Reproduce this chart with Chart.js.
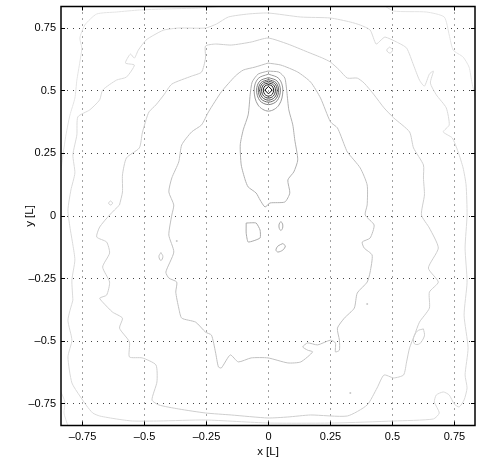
<!DOCTYPE html>
<html>
<head>
<meta charset="utf-8">
<title>Contours</title>
<script src="https://cdn.jsdelivr.net/npm/chart.js@4.4.0/dist/chart.umd.min.js"></script>
<style>
    html, body { margin: 0; padding: 0; background: #fff; }
</style>
</head>
<body>
<canvas id="contourChart" width="479" height="462"></canvas>
<script>
// Axis setup
const tickValues = [-0.75, -0.5, -0.25, 0, 0.25, 0.5, 0.75];
const xRange = [-0.837, 0.833];
const yRange = [-0.837, 0.837];

// Lowest level: only small pieces show inside the corners
const edgeTopLeft = [[-0.837,0.184],[-0.829,0.244],[-0.817,0.324],[-0.801,0.403],[-0.781,0.471],[-0.773,0.543],[-0.761,0.615],[-0.753,0.671],[-0.761,0.711],[-0.741,0.763],[-0.693,0.807],[-0.613,0.815],[-0.521,0.823],[-0.422,0.827],[-0.282,0.831],[-0.122,0.843]];
const edgeTopRight = [[0.458,0.847],[0.505,0.819],[0.637,0.815],[0.709,0.795],[0.729,0.723],[0.745,0.663],[0.785,0.635],[0.809,0.595],[0.821,0.531],[0.837,0.464]];
const edgeBottomLeft = [[-0.841,-0.695],[-0.821,-0.743],[-0.825,-0.787],[-0.809,-0.839]];

// Main closed levels, outside to inside
const level2 = [[-0.789,-0.336],[-0.793,-0.256],[-0.781,-0.176],[-0.789,-0.116],[-0.801,-0.044],[-0.809,0.024],[-0.797,0.104],[-0.781,0.172],[-0.789,0.244],[-0.773,0.324],[-0.769,0.396],[-0.721,0.424],[-0.681,0.464],[-0.669,0.503],[-0.613,0.543],[-0.573,0.555],[-0.541,0.603],[-0.577,0.611],[-0.557,0.647],[-0.541,0.631],[-0.525,0.663],[-0.494,0.703],[-0.462,0.723],[-0.422,0.743],[-0.362,0.751],[-0.254,0.751],[-0.210,0.767],[-0.162,0.795],[-0.082,0.807],[-0.002,0.811],[0.130,0.795],[0.250,0.791],[0.330,0.775],[0.370,0.763],[0.410,0.743],[0.434,0.687],[0.454,0.703],[0.470,0.715],[0.517,0.695],[0.557,0.671],[0.585,0.603],[0.609,0.543],[0.629,0.519],[0.649,0.567],[0.665,0.579],[0.653,0.531],[0.677,0.484],[0.717,0.432],[0.729,0.364],[0.705,0.336],[0.741,0.312],[0.765,0.256],[0.785,0.192],[0.797,0.124],[0.801,0.004],[0.793,-0.128],[0.801,-0.264],[0.789,-0.396],[0.805,-0.527],[0.793,-0.635],[0.801,-0.687],[0.789,-0.735],[0.769,-0.763],[0.749,-0.751],[0.729,-0.715],[0.705,-0.703],[0.677,-0.715],[0.669,-0.743],[0.689,-0.787],[0.665,-0.811],[0.505,-0.819],[0.266,-0.827],[-0.002,-0.827],[-0.254,-0.815],[-0.442,-0.819],[-0.549,-0.819],[-0.613,-0.811],[-0.681,-0.799],[-0.709,-0.787],[-0.733,-0.759],[-0.761,-0.719],[-0.793,-0.667],[-0.809,-0.563],[-0.793,-0.496],[-0.809,-0.416]];
const level3 = [[-0.601,0.044],[-0.589,0.096],[-0.589,0.164],[-0.573,0.232],[-0.521,0.272],[-0.509,0.332],[-0.494,0.384],[-0.482,0.416],[-0.454,0.444],[-0.422,0.484],[-0.390,0.527],[-0.310,0.559],[-0.270,0.575],[-0.254,0.631],[-0.254,0.679],[-0.214,0.687],[-0.150,0.683],[-0.070,0.695],[-0.002,0.711],[0.078,0.687],[0.158,0.655],[0.218,0.631],[0.250,0.615],[0.286,0.583],[0.318,0.551],[0.358,0.551],[0.386,0.531],[0.426,0.484],[0.466,0.432],[0.505,0.392],[0.569,0.336],[0.585,0.272],[0.625,0.204],[0.625,0.152],[0.629,0.084],[0.617,0.004],[0.649,-0.048],[0.685,-0.128],[0.645,-0.208],[0.685,-0.264],[0.649,-0.304],[0.649,-0.368],[0.609,-0.424],[0.589,-0.476],[0.569,-0.527],[0.557,-0.583],[0.545,-0.635],[0.505,-0.647],[0.466,-0.635],[0.438,-0.687],[0.398,-0.755],[0.318,-0.799],[0.170,-0.795],[0.078,-0.803],[-0.002,-0.807],[-0.150,-0.795],[-0.254,-0.787],[-0.362,-0.771],[-0.442,-0.755],[-0.470,-0.735],[-0.450,-0.663],[-0.454,-0.595],[-0.509,-0.567],[-0.561,-0.563],[-0.561,-0.503],[-0.601,-0.448],[-0.589,-0.408],[-0.629,-0.384],[-0.669,-0.344],[-0.681,-0.328],[-0.653,-0.316],[-0.641,-0.264],[-0.669,-0.204],[-0.641,-0.148],[-0.653,-0.104],[-0.693,-0.084],[-0.681,-0.044],[-0.641,0.004]];
const level4 = [[-0.002,0.611],[-0.054,0.595],[-0.102,0.583],[-0.134,0.559],[-0.190,0.496],[-0.242,0.416],[-0.270,0.364],[-0.310,0.336],[-0.350,0.284],[-0.362,0.216],[-0.390,0.152],[-0.402,0.096],[-0.382,0.044],[-0.390,0.004],[-0.402,-0.076],[-0.382,-0.144],[-0.414,-0.224],[-0.402,-0.248],[-0.370,-0.264],[-0.374,-0.304],[-0.362,-0.368],[-0.350,-0.408],[-0.294,-0.424],[-0.254,-0.464],[-0.230,-0.476],[-0.214,-0.543],[-0.202,-0.603],[-0.190,-0.607],[-0.154,-0.555],[-0.122,-0.583],[-0.070,-0.567],[-0.002,-0.567],[0.078,-0.587],[0.130,-0.583],[0.178,-0.543],[0.158,-0.536],[0.138,-0.523],[0.158,-0.507],[0.198,-0.515],[0.250,-0.496],[0.270,-0.507],[0.270,-0.543],[0.286,-0.536],[0.286,-0.496],[0.278,-0.448],[0.306,-0.408],[0.346,-0.368],[0.358,-0.308],[0.398,-0.264],[0.410,-0.224],[0.418,-0.156],[0.386,-0.128],[0.378,-0.104],[0.410,-0.088],[0.426,-0.036],[0.390,0.004],[0.398,0.044],[0.398,0.124],[0.370,0.192],[0.318,0.256],[0.306,0.284],[0.278,0.352],[0.250,0.376],[0.210,0.471],[0.170,0.535],[0.118,0.575],[0.050,0.603]];
const level5 = [[-0.002,0.579],[0.042,0.575],[0.066,0.551],[0.074,0.496],[0.082,0.424],[0.098,0.364],[0.106,0.304],[0.118,0.224],[0.102,0.176],[0.078,0.144],[0.086,0.092],[0.066,0.056],[0.006,0.052],[-0.014,0.036],[-0.034,0.064],[-0.050,0.092],[-0.082,0.116],[-0.094,0.144],[-0.110,0.204],[-0.114,0.284],[-0.102,0.344],[-0.082,0.404],[-0.074,0.484],[-0.066,0.535],[-0.042,0.567]];

// Small closed islands
const islandD = [[-0.090,-0.028],[-0.050,-0.028],[-0.034,-0.056],[-0.034,-0.088],[-0.082,-0.104],[-0.090,-0.068]];
const islandSlit = [[0.050,-0.022],[0.057,-0.032],[0.057,-0.048],[0.050,-0.058],[0.043,-0.048],[0.043,-0.032]];
const islandBlob = [[0.058,-0.110],[0.068,-0.120],[0.058,-0.136],[0.038,-0.144],[0.030,-0.136],[0.038,-0.120]];
const islandWestA = [[-0.637,0.060],[-0.629,0.052],[-0.637,0.044],[-0.645,0.052]];
const islandWestB = [[-0.434,-0.146],[-0.426,-0.162],[-0.434,-0.178],[-0.442,-0.162]];
const islandNorthEast = [[0.489,0.675],[0.501,0.663],[0.489,0.651],[0.477,0.663]];
const islandEast = [[0.625,-0.451],[0.629,-0.479],[0.609,-0.511],[0.589,-0.511],[0.585,-0.487],[0.601,-0.459]];
const specks = [[-0.370,-0.100],[0.398,-0.352],[0.330,-0.707]];

// Rings round the peak at (0, 0.5)
const ring1 = [[0,0.567],[0.042,0.549],[0.058,0.503],[0.042,0.443],[0,0.419],[-0.042,0.443],[-0.058,0.503],[-0.042,0.549]];
const ring2 = [[0,0.553],[0.035,0.539],[0.048,0.503],[0.035,0.461],[0,0.445],[-0.035,0.461],[-0.048,0.503],[-0.035,0.539]];
const ring3 = [[0,0.545],[0.030,0.533],[0.041,0.503],[0.030,0.468],[0,0.455],[-0.030,0.468],[-0.041,0.503],[-0.030,0.533]];
const ring4 = [[0,0.539],[0.025,0.529],[0.035,0.503],[0.025,0.474],[0,0.463],[-0.025,0.474],[-0.035,0.503],[-0.025,0.529]];
const ring5 = [[0,0.532],[0.020,0.524],[0.028,0.503],[0.020,0.480],[0,0.471],[-0.020,0.480],[-0.028,0.503],[-0.020,0.524]];
const ring6 = [[0,0.525],[0.015,0.519],[0.021,0.503],[0.015,0.486],[0,0.479],[-0.015,0.486],[-0.021,0.503],[-0.015,0.519]];
const ring7 = [[0,0.518],[0.015,0.503],[0,0.488],[-0.015,0.503]];

function toXY(pts, closed) {
    const out = pts.map(p => ({ x: p[0], y: p[1] }));
    if (closed) out.push({ x: pts[0][0], y: pts[0][1] });
    return out;
}

function contour(pts, color, closed, tension) {
    return {
        data: toXY(pts, closed),
        showLine: true,
        borderColor: color,
        borderWidth: 1,
        pointRadius: 0,
        tension: tension === undefined ? 0.2 : tension,
        fill: false
    };
}

const datasets = [
    contour(edgeTopLeft, '#e4e4e4', false),
    contour(edgeTopRight, '#e4e4e4', false),
    contour(edgeBottomLeft, '#e4e4e4', false),
    contour(level2, '#dadada', true),
    contour(islandNorthEast, '#d6d6d6', true, 0.4),
    contour(level3, '#cecece', true),
    contour(islandWestA, '#cecece', true, 0.4),
    contour(islandEast, '#cecece', true, 0.3),
    contour(level4, '#c0c0c0', true),
    contour(islandWestB, '#c0c0c0', true, 0.4),
    contour(level5, '#b0b0b0', true),
    contour(islandD, '#aaaaaa', true, 0.15),
    contour(islandSlit, '#aaaaaa', true, 0.3),
    contour(islandBlob, '#aaaaaa', true, 0.3),
    contour(ring1, '#9a9a9a', true, 0.35),
    contour(ring2, '#808080', true, 0.35),
    contour(ring3, '#666666', true, 0.35),
    contour(ring4, '#4c4c4c', true, 0.35),
    contour(ring5, '#333333', true, 0.35),
    contour(ring6, '#1a1a1a', true, 0.3),
    contour(ring7, '#000000', true, 0),
    {
        data: toXY(specks, false),
        showLine: false,
        pointRadius: 1,
        pointBorderWidth: 0,
        pointBackgroundColor: '#c8c8c8'
    }
];

const fontFamily = "'Liberation Sans', Arial, Helvetica, sans-serif";

function tickLabel(v) {
    return v === 0 ? '0' : String(v).replace('-', '\u2013');
}

// Box round the plot plus inward tick marks on all four sides
const frame = {
    id: 'frame',
    afterDraw(chart) {
        const { ctx, chartArea: a, scales: { x, y } } = chart;
        const align = p => Math.round(p - 0.5) + 0.5;
        const right = Math.min(a.right, chart.width - 1);
        ctx.save();
        ctx.strokeStyle = '#000';
        ctx.lineWidth = 1;
        ctx.beginPath();
        tickValues.forEach(v => {
            const px = align(x.getPixelForValue(v));
            ctx.moveTo(px, a.bottom); ctx.lineTo(px, a.bottom - 4);
            ctx.moveTo(px, a.top); ctx.lineTo(px, a.top + 4);
            const py = align(y.getPixelForValue(v));
            ctx.moveTo(a.left, py); ctx.lineTo(a.left + 4, py);
            ctx.moveTo(right, py); ctx.lineTo(right - 4, py);
        });
        ctx.stroke();
        ctx.lineWidth = 1.5;
        ctx.strokeRect(a.left, a.top, right - a.left, a.bottom - a.top);
        ctx.restore();
    }
};

function axisOptions(range, title, isX) {
    return {
        type: 'linear',
        bounds: 'data',
        min: range[0],
        max: range[1],
        afterBuildTicks: scale => {
            scale.ticks = tickValues.map(v => ({ value: v }));
        },
        afterFit: scale => {
            if (isX) {
                scale.height = 36.5;
                scale.paddingLeft = 0;
                scale.paddingRight = 0;
            } else {
                scale.width = 61;
                scale.paddingTop = 0;
                scale.paddingBottom = 0;
            }
        },
        grid: { display: true, drawTicks: false, color: '#444', lineWidth: 1 },
        border: { display: false, dash: [1, 5] },
        ticks: {
            color: '#000',
            padding: 5,
            autoSkip: false,
            maxRotation: 0,
            minRotation: 0,
            font: { family: fontFamily, size: 11 },
            callback: tickLabel
        },
        title: {
            display: true,
            text: title,
            color: '#000',
            font: { family: fontFamily, size: 11.5 },
            padding: isX ? { top: 0, bottom: 3 } : { top: 23, bottom: 0 }
        }
    };
}

new Chart(document.getElementById('contourChart').getContext('2d'), {
    type: 'scatter',
    data: { datasets: datasets },
    options: {
        responsive: false,
        animation: false,
        events: [],
        layout: { padding: { top: 6.5, right: 0, bottom: 0, left: 0 } },
        plugins: { legend: { display: false }, tooltip: { enabled: false } },
        scales: {
            x: axisOptions(xRange, 'x [L]', true),
            y: axisOptions(yRange, 'y [L]', false)
        }
    },
    plugins: [frame]
});
</script>
</body>
</html>
